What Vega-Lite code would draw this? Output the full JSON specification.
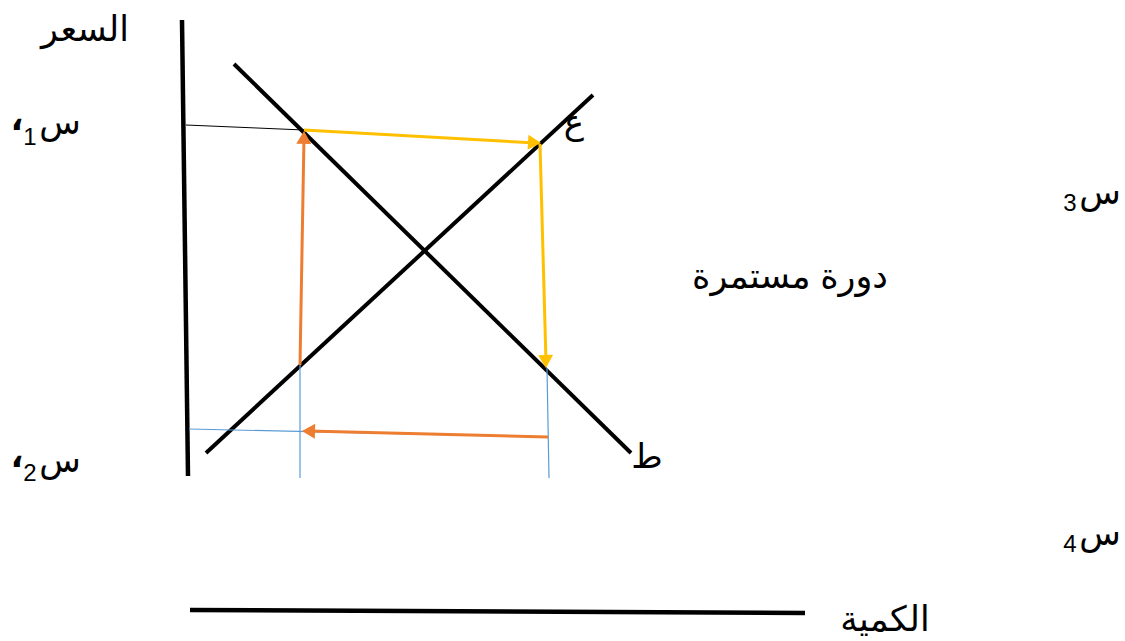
{
  "$schema": "https://vega.github.io/schema/vega-lite/v6.json",
  "width": 1125,
  "height": 641,
  "autosize": {"type": "fit", "contains": "padding"},
  "padding": 0,
  "background": "white",
  "config": {"view": {"stroke": null}},
  "datasets": {
    "lines": [
      {"name": "price_axis", "kind": "axis", "x1": 182, "y1": 20, "x2": 188, "y2": 476},
      {"name": "quantity_axis", "kind": "axis", "x1": 190, "y1": 610, "x2": 805, "y2": 613},
      {"name": "demand", "kind": "curve", "x1": 234, "y1": 64, "x2": 631, "y2": 453},
      {"name": "supply", "kind": "curve", "x1": 206, "y1": 453, "x2": 593, "y2": 95},
      {"name": "p1_guide", "kind": "thin", "x1": 186, "y1": 125, "x2": 304, "y2": 130},
      {"name": "p2_guide", "kind": "blue", "x1": 189, "y1": 429, "x2": 548, "y2": 437},
      {"name": "q1_guide", "kind": "blue", "x1": 300, "y1": 365, "x2": 300, "y2": 478},
      {"name": "q2_guide", "kind": "blue", "x1": 547, "y1": 368, "x2": 549, "y2": 478},
      {"name": "step1", "kind": "yellow", "x1": 304, "y1": 130, "x2": 536, "y2": 143},
      {"name": "step2", "kind": "yellow", "x1": 540, "y1": 144, "x2": 546, "y2": 362},
      {"name": "step3", "kind": "orange", "x1": 548, "y1": 437, "x2": 308, "y2": 431},
      {"name": "step4", "kind": "orange", "x1": 300, "y1": 365, "x2": 304, "y2": 137}
    ],
    "arrows": [
      {"step": "step1", "kind": "yellow", "x": 534.5, "y": 142.6, "heading": 93.4},
      {"step": "step2", "kind": "yellow", "x": 545.8, "y": 361.5, "heading": 178.5},
      {"step": "step3", "kind": "orange", "x": 308.5, "y": 431.2, "heading": 271.4},
      {"step": "step4", "kind": "orange", "x": 303.9, "y": 137.5, "heading": 1}
    ],
    "labels": [
      {"kind": "word", "x": 85, "y": 30, "text": "السعر"},
      {"kind": "word", "x": 790, "y": 277, "text": "دورة مستمرة"},
      {"kind": "word", "x": 885, "y": 620, "text": "الكمية"},
      {"kind": "letter", "x": 60, "y": 124, "text": "س"},
      {"kind": "comma", "x": 17, "y": 120, "text": "،"},
      {"kind": "sub", "x": 30, "y": 138, "text": "1"},
      {"kind": "letter", "x": 60, "y": 462, "text": "س"},
      {"kind": "comma", "x": 17, "y": 457, "text": "،"},
      {"kind": "sub", "x": 30, "y": 474, "text": "2"},
      {"kind": "letter", "x": 574, "y": 124, "text": "ع"},
      {"kind": "letter", "x": 647, "y": 458, "text": "ط"},
      {"kind": "letter", "x": 1100, "y": 194, "text": "س"},
      {"kind": "sub", "x": 1070, "y": 204, "text": "3"},
      {"kind": "letter", "x": 1100, "y": 535, "text": "س"},
      {"kind": "sub", "x": 1070, "y": 545, "text": "4"}
    ]
  },
  "layer": [
    {
      "data": {"name": "lines"},
      "transform": [{"filter": "datum.kind === 'axis'"}],
      "mark": {"type": "rule", "color": "black", "strokeWidth": 4.5, "strokeCap": "butt"},
      "encoding": {
        "x": {"field": "x1", "type": "quantitative", "scale": {"domain": [0, 1125], "nice": false, "zero": false}, "axis": null},
        "y": {"field": "y1", "type": "quantitative", "scale": {"domain": [0, 641], "nice": false, "zero": false, "reverse": true}, "axis": null},
        "x2": {"field": "x2"},
        "y2": {"field": "y2"}
      }
    },
    {
      "data": {"name": "lines"},
      "transform": [{"filter": "datum.kind === 'curve'"}],
      "mark": {"type": "rule", "color": "black", "strokeWidth": 4, "strokeCap": "butt"},
      "encoding": {
        "x": {"field": "x1", "type": "quantitative", "axis": null},
        "y": {"field": "y1", "type": "quantitative", "axis": null},
        "x2": {"field": "x2"},
        "y2": {"field": "y2"}
      }
    },
    {
      "data": {"name": "lines"},
      "transform": [{"filter": "datum.kind === 'thin'"}],
      "mark": {"type": "rule", "color": "black", "strokeWidth": 1},
      "encoding": {
        "x": {"field": "x1", "type": "quantitative", "axis": null},
        "y": {"field": "y1", "type": "quantitative", "axis": null},
        "x2": {"field": "x2"},
        "y2": {"field": "y2"}
      }
    },
    {
      "data": {"name": "lines"},
      "transform": [{"filter": "datum.kind === 'blue'"}],
      "mark": {"type": "rule", "color": "#5B9BD5", "strokeWidth": 1.2},
      "encoding": {
        "x": {"field": "x1", "type": "quantitative", "axis": null},
        "y": {"field": "y1", "type": "quantitative", "axis": null},
        "x2": {"field": "x2"},
        "y2": {"field": "y2"}
      }
    },
    {
      "data": {"name": "lines"},
      "transform": [{"filter": "datum.kind === 'yellow' || datum.kind === 'orange'"}],
      "mark": {"type": "rule", "strokeWidth": 3, "strokeCap": "butt"},
      "encoding": {
        "x": {"field": "x1", "type": "quantitative", "axis": null},
        "y": {"field": "y1", "type": "quantitative", "axis": null},
        "x2": {"field": "x2"},
        "y2": {"field": "y2"},
        "color": {"field": "kind", "type": "nominal", "scale": {"domain": ["yellow", "orange"], "range": ["#FFC000", "#ED7D31"]}, "legend": null}
      }
    },
    {
      "data": {"name": "arrows"},
      "mark": {"type": "point", "shape": "triangle-up", "filled": true, "size": 225, "opacity": 1, "strokeWidth": 0},
      "encoding": {
        "x": {"field": "x", "type": "quantitative", "axis": null},
        "y": {"field": "y", "type": "quantitative", "axis": null},
        "angle": {"field": "heading", "type": "quantitative", "scale": {"domain": [0, 360], "range": [0, 360]}},
        "color": {"field": "kind", "type": "nominal", "scale": {"domain": ["yellow", "orange"], "range": ["#FFC000", "#ED7D31"]}, "legend": null}
      }
    },
    {
      "data": {"name": "labels"},
      "transform": [{"filter": "datum.kind === 'word'"}],
      "mark": {"type": "text", "font": "Liberation Sans, DejaVu Sans, sans-serif", "fontSize": 35, "color": "black", "align": "center", "baseline": "middle"},
      "encoding": {
        "x": {"field": "x", "type": "quantitative", "axis": null},
        "y": {"field": "y", "type": "quantitative", "axis": null},
        "text": {"field": "text"}
      }
    },
    {
      "data": {"name": "labels"},
      "transform": [{"filter": "datum.kind === 'letter'"}],
      "mark": {"type": "text", "font": "Liberation Sans, DejaVu Sans, sans-serif", "fontSize": 34, "color": "black", "align": "center", "baseline": "middle"},
      "encoding": {
        "x": {"field": "x", "type": "quantitative", "axis": null},
        "y": {"field": "y", "type": "quantitative", "axis": null},
        "text": {"field": "text"}
      }
    },
    {
      "data": {"name": "labels"},
      "transform": [{"filter": "datum.kind === 'comma'"}],
      "mark": {"type": "text", "font": "Liberation Sans, DejaVu Sans, sans-serif", "fontSize": 34, "fontWeight": "bold", "color": "black", "align": "center", "baseline": "middle"},
      "encoding": {
        "x": {"field": "x", "type": "quantitative", "axis": null},
        "y": {"field": "y", "type": "quantitative", "axis": null},
        "text": {"field": "text"}
      }
    },
    {
      "data": {"name": "labels"},
      "transform": [{"filter": "datum.kind === 'sub'"}],
      "mark": {"type": "text", "font": "Liberation Sans, DejaVu Sans, sans-serif", "fontSize": 24, "color": "black", "align": "center", "baseline": "middle"},
      "encoding": {
        "x": {"field": "x", "type": "quantitative", "axis": null},
        "y": {"field": "y", "type": "quantitative", "axis": null},
        "text": {"field": "text"}
      }
    }
  ]
}
